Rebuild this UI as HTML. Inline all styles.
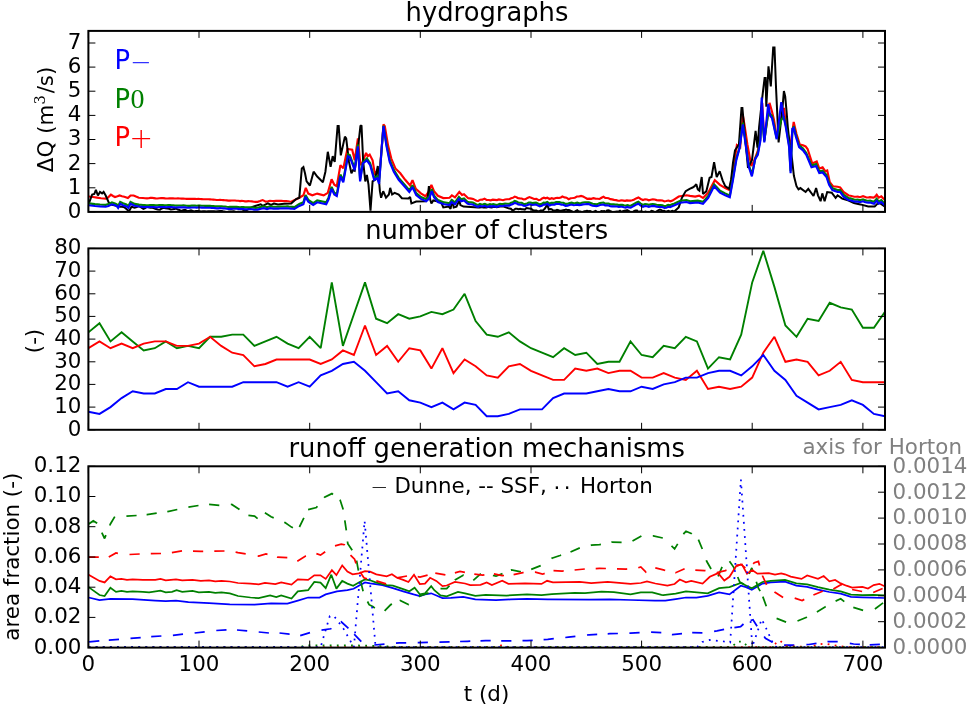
<!DOCTYPE html>
<html lang="en"><head><meta charset="utf-8"><title>hydrographs, number of clusters, runoff generation mechanisms</title>
<style>html,body{margin:0;padding:0;background:#fff}svg{display:block}text{font-family:"DejaVu Sans", "Liberation Sans", sans-serif;font-size:21.4px;fill:#000}.t{font-size:25.8px}.g{fill:#808080}.s{font-family:"Liberation Serif", "DejaVu Serif", serif}.l{font-family:"DejaVu Sans Light","DejaVu Sans",sans-serif;font-weight:200}</style>
</head><body>
<svg width="967" height="706" viewBox="0 0 967 706">
<rect width="967" height="706" fill="#fff"/>
<defs>
<clipPath id="c1"><rect x="88.4" y="30.9" width="796.6" height="181.0"/></clipPath>
<clipPath id="c2"><rect x="88.4" y="248.4" width="796.6" height="181.4"/></clipPath>
<clipPath id="c3"><rect x="88.4" y="466.3" width="796.6" height="181.3"/></clipPath>
</defs>
<g clip-path="url(#c1)">
<polyline points="88.6,196.5 93.0,197.0 97.0,197.6 101.0,198.2 105.7,198.6 108.0,197.5 110.9,194.7 113.0,196.0 115.0,197.0 117.5,196.3 119.6,195.5 122.0,196.3 124.3,196.8 127.9,198.1 129.0,197.0 130.5,195.5 133.6,195.5 136.0,196.6 138.8,197.8 143.0,198.0 145.0,198.2 147.0,198.3 148.7,198.2 150.3,197.9 152.0,197.8 153.8,198.1 155.6,198.4 157.4,198.5 159.3,198.2 161.1,198.1 163.0,198.1 165.3,198.4 167.7,198.5 169.5,198.3 171.2,198.4 173.0,198.4 174.7,198.5 176.3,198.5 178.0,198.4 179.8,198.5 181.5,198.6 183.2,198.6 185.0,198.8 186.7,198.9 188.3,198.9 190.0,198.9 191.7,198.8 193.3,198.8 195.0,198.8 196.7,199.0 198.3,198.9 200.0,199.0 201.7,199.1 203.3,199.2 205.0,199.2 206.7,199.2 208.3,199.3 210.0,199.4 211.7,199.5 213.3,199.6 215.0,199.8 216.7,200.0 218.3,200.0 220.0,199.9 221.7,200.0 223.3,200.1 225.0,200.2 226.7,200.4 228.3,200.6 230.0,200.6 231.7,200.5 233.3,200.5 235.0,200.5 236.7,200.7 238.3,200.8 240.0,201.1 241.7,200.9 243.3,201.0 245.0,201.3 246.7,201.3 248.3,201.2 250.0,201.3 251.9,201.4 253.8,201.7 255.7,201.8 257.6,201.8 260.0,201.1 262.7,200.1 265.8,201.6 267.9,201.3 270.0,200.9 272.0,201.0 274.0,201.1 276.0,200.9 277.9,200.9 279.8,200.8 281.4,200.8 283.1,201.0 284.7,201.1 286.3,201.1 287.9,201.2 289.6,201.5 291.2,201.7 299.3,197.7 303.4,195.3 305.8,187.9 308.3,193.6 312.3,195.3 317.2,193.6 323.7,195.3 327.8,192.8 331.6,179.3 334.3,184.7 336.8,186.3 340.4,165.1 343.3,168.4 347.4,148.9 352.2,149.7 354.7,160.3 357.9,138.3 360.4,165.1 362.0,163.5 366.1,152.9 367.7,156.2 369.7,154.6 372.6,160.3 375.0,174.9 377.5,170.0 379.1,178.2 381.6,148.9 383.5,124.4 384.8,126.1 388.1,145.6 391.3,158.6 395.4,168.4 400.3,173.3 405.2,179.8 410.1,185.5 412.5,180.1 415.8,188.8 420.9,193.4 425.5,196.2 428.6,191.9 431.4,184.9 434.0,191.1 437.9,195.8 443.3,198.1 449.6,197.8 451.9,195.3 455.0,197.3 459.3,191.9 462.0,195.0 464.0,194.2 468.2,198.3 469.9,198.4 471.5,198.6 473.2,198.9 474.9,199.9 476.5,200.8 478.2,201.0 480.3,199.7 482.4,199.6 484.5,198.6 486.6,199.9 488.6,200.0 490.7,200.3 492.8,199.7 494.8,199.9 496.9,200.1 498.9,199.4 501.0,199.8 503.0,200.2 505.1,199.5 507.2,199.3 509.3,199.2 511.1,198.2 512.9,197.8 514.7,196.6 516.5,197.2 518.2,198.2 520.0,198.4 521.7,198.5 523.6,199.4 525.5,199.2 527.5,197.9 529.4,197.1 531.8,198.1 534.1,199.0 536.4,198.9 538.7,200.1 540.4,199.8 542.1,198.4 543.9,197.7 545.6,198.3 547.3,197.7 549.6,199.0 551.7,198.2 553.7,198.8 555.8,198.0 557.4,197.8 559.1,198.0 560.8,197.4 562.4,196.5 564.5,197.4 566.5,197.7 568.6,199.2 570.7,198.2 572.7,198.0 574.8,197.7 576.9,196.5 578.9,196.5 581.0,195.9 583.1,196.6 585.1,197.6 587.2,198.8 589.3,198.7 591.3,198.8 593.4,198.2 595.5,198.6 597.5,198.8 599.6,199.0 601.5,197.8 603.5,196.7 605.2,197.9 606.9,198.0 608.6,198.2 610.3,199.1 612.0,199.4 614.1,199.9 616.1,200.1 618.2,200.7 619.9,200.6 621.7,200.3 623.4,200.6 625.1,200.9 626.9,200.4 628.6,200.6 630.3,200.6 632.1,200.2 633.8,199.7 636.1,198.4 638.4,197.4 640.7,199.0 643.0,200.0 645.0,199.3 646.9,199.5 648.8,200.3 650.8,199.8 652.8,199.3 654.7,199.5 656.6,200.1 658.6,200.4 660.5,200.4 662.5,200.5 664.4,201.4 666.3,201.0 668.4,200.5 670.4,201.3 672.5,200.6 678.7,196.5 686.5,195.3 690.0,195.9 695.2,196.6 699.1,195.6 703.0,197.9 708.2,192.7 714.8,180.3 720.0,184.9 725.2,188.1 729.8,190.1 733.0,170.5 736.9,145.1 740.2,147.1 742.8,115.2 744.5,125.0 747.4,144.5 751.3,166.0 753.9,161.4 757.8,151.0 761.0,128.8 762.2,103.0 764.3,140.0 769.5,102.8 772.1,111.9 774.0,120.0 776.7,137.0 783.9,108.0 786.0,125.0 789.0,140.0 790.5,145.0 793.7,121.9 796.5,134.0 799.8,144.5 803.0,145.2 805.6,146.4 807.6,149.0 812.2,163.4 816.7,161.4 819.3,168.6 822.6,167.3 825.2,171.2 827.2,170.5 829.8,182.3 833.0,186.2 837.6,186.8 840.2,187.5 843.5,192.0 848.7,195.5 850.5,195.7 852.3,196.2 854.2,196.7 856.0,196.7 857.8,196.5 859.5,197.2 861.3,196.7 863.0,196.2 864.7,196.8 866.5,197.5 868.2,197.5 869.9,197.2 871.7,197.4 873.4,197.6 875.0,196.8 876.7,194.8 878.7,197.7 881.3,196.4 883.0,198.1 884.6,199.3" fill="none" stroke="#ff0000" stroke-width="2.15" stroke-linejoin="miter" stroke-miterlimit="2"/>
<polyline points="88.6,203.5 89.1,202.7 92.2,194.5 94.3,194.0 95.9,189.8 97.9,195.5 100.0,191.9 102.1,193.4 103.6,191.9 105.7,195.5 108.8,202.7 111.9,204.8 118.1,206.1 120.2,206.7 122.2,206.7 124.3,207.2 126.7,209.2 129.0,211.3 131.5,206.7 134.6,207.8 136.7,207.0 138.8,206.0 141.1,207.5 143.4,208.8 145.2,208.1 147.0,206.8 148.7,207.2 150.3,207.8 152.0,207.8 153.6,208.0 155.3,208.8 157.7,209.4 160.0,209.7 161.8,208.5 163.6,207.7 165.4,208.2 167.2,208.4 169.0,208.7 170.8,209.4 172.5,209.3 174.3,208.9 176.0,208.5 177.7,209.5 179.5,209.9 181.2,211.0 183.1,210.2 185.0,209.7 188.0,211.3 191.0,210.2 194.0,211.4 196.0,211.1 198.0,211.0 199.7,211.2 201.3,211.5 203.0,211.2 204.8,211.3 206.5,211.5 208.2,211.2 210.0,211.3 212.0,211.3 214.0,211.3 216.0,211.6 218.0,211.2 220.0,211.1 222.0,211.1 224.0,211.6 226.0,211.9 228.0,211.7 230.0,211.4 232.0,211.5 233.6,211.2 235.2,211.8 236.8,211.9 238.4,211.7 240.0,211.9 242.0,211.5 244.0,211.0 246.0,210.6 249.0,208.8 252.4,206.9 256.0,205.8 260.7,204.3 262.7,205.8 267.9,203.3 271.0,204.8 274.0,203.5 278.0,204.4 284.0,203.8 291.2,203.4 296.1,199.0 299.3,197.7 301.8,168.4 303.4,167.1 305.0,173.3 306.6,181.4 309.9,185.5 313.6,171.7 317.2,176.5 322.9,182.2 325.4,171.7 327.8,151.8 330.6,166.8 332.7,156.2 334.7,161.9 337.6,126.1 338.7,126.1 340.8,155.4 344.9,136.6 346.2,138.3 349.0,161.9 351.4,173.3 353.1,170.0 354.7,170.8 357.9,148.9 360.4,126.1 361.5,125.2 363.2,161.9 365.3,181.4 366.9,174.9 368.5,184.7 370.5,210.7 372.6,181.4 375.0,179.8 377.8,166.0 379.9,191.2 381.1,197.7 383.2,191.2 386.0,197.7 388.9,194.5 390.2,187.9 392.1,194.5 394.6,192.8 398.7,194.5 401.9,198.2 408.4,198.5 410.1,196.9 411.4,203.4 416.2,201.5 425.5,201.2 427.8,196.5 428.9,186.0 430.2,199.6 431.4,203.5 433.3,200.4 441.0,202.0 443.3,207.4 448.8,206.6 450.6,208.9 452.2,199.6 453.7,207.4 456.5,206.6 459.3,200.4 460.4,205.1 463.5,206.6 478.2,207.4 479.9,207.6 481.6,207.0 483.3,207.4 484.9,207.4 486.6,207.4 488.3,206.9 490.0,207.3 491.6,207.4 493.2,207.0 494.9,206.8 496.5,207.2 498.1,207.0 499.8,206.6 501.4,206.6 503.0,206.2 509.3,208.6 510.9,208.8 512.4,210.4 514.0,209.9 515.5,208.8 517.0,208.7 518.6,209.2 520.1,208.8 521.7,209.3 523.2,209.2 524.8,209.6 526.3,208.0 527.9,208.2 529.4,208.6 531.0,208.7 532.5,209.9 533.8,210.4 535.2,210.5 536.5,210.5 537.8,211.3 539.1,211.3 540.5,210.6 541.8,210.5 543.3,210.1 544.9,208.5 547.3,204.7 548.8,209.4 550.1,209.0 551.5,209.3 552.9,210.4 554.2,210.5 555.7,210.5 557.1,209.9 558.5,210.1 560.0,210.9 561.5,210.6 563.0,210.2 564.5,210.1 566.0,209.5 567.5,210.1 569.0,210.1 570.5,210.7 572.0,211.4 573.3,212.2 574.7,211.9 576.0,210.9 577.3,210.2 578.7,211.4 580.0,211.6 581.4,211.9 582.9,212.0 584.3,211.2 585.7,211.1 587.1,210.8 588.6,211.2 590.0,211.0 591.4,211.7 592.9,211.9 594.3,211.5 595.7,211.0 597.1,212.1 598.6,212.6 600.0,212.1 601.4,211.0 602.9,211.3 604.3,211.1 605.7,212.0 607.1,210.4 608.6,210.2 610.0,210.9 611.4,211.5 612.9,212.7 614.3,212.0 615.7,211.8 617.1,211.6 618.6,211.7 620.0,210.8 621.4,212.1 622.9,211.2 624.3,210.7 625.7,210.6 627.1,210.1 628.6,210.8 630.0,211.9 631.4,212.7 632.9,212.0 634.3,211.0 635.7,210.5 637.1,210.5 638.6,212.1 640.0,211.5 641.4,211.3 642.9,211.9 644.3,211.9 645.7,211.6 647.1,212.3 648.6,212.8 650.0,212.2 651.4,210.8 652.9,211.3 654.3,212.0 655.7,212.0 657.1,211.1 658.6,210.2 660.0,209.6 661.4,210.1 662.8,211.0 664.2,210.7 665.6,211.6 667.0,211.5 668.4,210.9 669.8,211.4 671.2,211.3 672.6,210.8 674.0,211.8 678.7,207.4 681.8,198.1 685.7,191.1 689.6,188.8 692.6,187.5 694.6,186.2 696.3,184.2 697.8,189.4 699.4,190.7 701.7,177.0 703.0,194.0 706.3,191.4 709.6,177.7 711.5,177.0 714.1,162.1 716.7,177.0 719.7,171.2 722.6,180.3 725.2,186.2 729.1,188.8 731.1,179.7 733.0,162.7 735.0,150.3 738.9,144.5 741.5,108.0 742.4,108.0 744.1,127.0 748.0,167.9 752.0,160.0 755.6,130.8 757.5,147.7 759.1,127.0 762.4,96.3 764.6,78.0 765.6,78.0 766.3,106.7 768.5,66.3 770.8,86.5 773.2,47.4 774.5,47.4 776.0,87.1 778.6,142.5 780.0,130.0 782.6,106.7 783.9,91.0 785.2,96.3 786.7,113.2 787.8,127.0 790.0,147.0 792.0,158.8 793.9,175.8 796.5,186.2 798.5,189.4 800.4,188.1 805.6,192.0 808.3,188.8 813.5,196.0 816.1,188.1 818.0,195.3 820.6,201.2 822.3,193.4 824.6,201.2 827.2,192.0 831.7,192.7 835.6,197.9 837.6,195.3 842.2,198.6 848.7,200.5 853.9,203.1 860.4,204.4 868.2,206.4 874.7,206.4 877.4,203.8 880.0,203.1 884.6,206.4" fill="none" stroke="#000" stroke-width="2.00" stroke-linejoin="miter" stroke-miterlimit="2"/>
<polyline points="88.6,203.4 95.0,204.1 100.0,204.5 105.7,204.8 108.5,204.1 111.9,202.4 115.0,203.4 116.8,204.3 118.1,206.0 120.2,201.9 123.0,203.3 126.4,204.5 128.4,206.0 130.5,201.9 134.6,203.9 139.0,204.6 142.9,205.0 144.7,205.1 146.4,205.2 148.2,205.2 150.0,205.1 151.8,205.1 153.7,205.1 155.6,205.4 157.4,205.3 159.2,205.1 161.0,205.1 162.8,205.1 164.6,205.2 166.4,205.3 168.2,205.1 170.0,205.1 171.7,205.2 173.3,205.3 175.0,205.5 176.7,205.6 178.3,205.5 180.0,205.5 181.7,205.5 183.3,205.4 185.0,205.5 186.7,205.7 188.3,205.8 190.0,205.8 191.7,205.6 193.3,205.6 195.0,205.6 196.7,205.7 198.3,205.6 200.0,205.6 201.7,205.7 203.3,205.7 205.0,205.8 206.7,205.8 208.3,205.8 210.0,205.9 211.7,206.0 213.3,206.1 215.0,206.2 216.7,206.4 218.3,206.4 220.0,206.3 221.7,206.4 223.3,206.5 225.0,206.5 226.7,206.8 228.4,207.0 230.0,206.9 231.7,206.9 233.4,206.8 235.0,206.8 236.7,206.9 238.3,207.0 240.0,207.2 241.7,207.0 243.3,207.1 245.0,207.4 246.8,207.3 248.6,207.3 250.4,207.3 252.2,207.4 254.0,207.7 255.8,207.8 257.6,207.7 259.3,207.2 261.0,206.9 263.8,206.3 267.0,207.2 270.0,206.3 271.7,206.5 273.3,206.7 275.0,206.7 276.7,206.7 278.3,206.7 280.0,206.6 281.8,206.5 283.6,206.5 285.4,206.5 287.2,206.4 289.0,206.6 290.8,206.7 292.6,206.9 294.4,207.1 299.3,204.0 303.4,202.3 305.5,195.0 308.3,199.9 313.2,203.1 317.2,200.4 326.2,202.3 328.6,197.4 331.6,186.9 334.3,192.6 336.8,194.2 340.4,174.6 343.3,180.3 347.9,154.3 349.8,155.1 352.2,161.6 354.7,168.1 357.9,144.5 360.1,179.5 362.8,162.6 366.9,158.4 370.2,163.2 374.2,177.9 377.2,176.3 379.1,182.0 381.6,150.1 383.5,125.6 386.4,143.7 389.7,160.0 393.8,169.8 398.7,177.9 404.4,184.4 409.3,190.1 412.5,185.3 416.2,193.1 420.9,197.0 426.3,199.3 429.4,196.2 431.7,189.2 434.0,195.4 437.9,200.1 444.1,202.4 449.6,203.2 451.6,200.1 455.0,202.4 458.9,197.0 461.2,199.3 464.0,198.5 467.4,201.7 469.2,202.2 471.0,202.3 472.8,202.6 474.6,203.5 476.4,204.5 478.2,204.9 479.9,204.0 481.6,204.5 483.3,204.4 484.9,203.9 486.6,204.8 488.3,204.7 490.0,204.2 491.6,204.5 493.2,204.2 494.9,204.5 496.5,205.0 498.1,204.5 499.8,203.9 501.4,204.1 503.0,204.1 505.1,203.6 507.2,203.7 509.3,203.8 511.1,202.7 512.9,202.2 514.7,201.0 516.5,201.5 518.2,202.5 520.0,202.7 521.7,202.8 523.5,203.9 525.2,204.0 527.0,203.4 528.8,202.6 530.6,202.5 532.3,203.1 534.1,202.9 536.0,202.7 538.0,203.6 539.9,204.4 541.8,203.9 543.6,202.7 545.5,202.8 547.3,201.9 549.6,203.6 551.2,202.8 552.8,202.8 554.5,202.7 556.1,202.0 557.7,202.1 559.3,202.1 561.4,202.7 563.4,202.8 565.5,203.9 567.6,203.7 569.6,203.1 571.7,202.6 573.6,203.3 575.4,203.1 577.3,202.7 579.1,203.2 581.0,203.0 583.0,202.5 584.9,202.3 586.8,202.2 588.8,202.2 590.7,203.0 592.6,203.8 594.6,204.0 596.5,204.2 598.2,203.8 600.0,203.1 601.8,202.8 603.5,202.6 605.2,203.6 606.9,203.5 608.6,203.6 610.3,204.3 612.0,204.4 613.7,204.4 615.4,204.6 617.1,204.6 618.8,205.0 620.5,204.8 622.2,204.8 623.9,205.3 625.6,205.7 627.3,205.1 629.0,205.6 630.7,205.7 632.6,204.7 634.5,203.6 636.5,202.5 638.4,201.8 640.7,203.6 643.0,204.9 645.0,204.1 646.9,204.3 648.8,204.9 650.8,204.3 652.8,204.0 654.7,204.2 656.6,204.7 658.6,205.0 660.5,205.1 662.5,205.2 664.4,206.1 666.3,205.8 668.2,204.9 670.1,205.2 672.1,204.3 674.0,203.7 680.3,200.8 686.5,200.1 690.0,201.2 697.8,200.6 703.0,201.9 708.2,196.0 714.1,184.3 720.0,190.8 725.2,193.4 729.8,195.4 733.0,177.8 736.3,158.2 739.5,147.9 742.8,122.6 746.0,145.2 748.7,164.7 751.9,174.5 755.2,159.1 757.8,153.0 760.4,138.7 761.7,114.9 764.3,141.2 768.2,113.3 770.2,113.9 772.0,116.1 776.7,138.2 781.3,119.7 783.9,116.5 785.8,125.1 789.1,145.2 790.6,171.2 792.3,133.2 793.7,126.1 795.9,134.7 799.1,145.2 803.0,148.4 806.3,153.0 811.5,165.4 816.1,164.1 819.3,171.2 822.6,170.6 826.5,175.1 829.1,183.0 832.4,188.2 837.6,190.1 840.2,190.1 843.5,194.7 848.7,198.2 850.5,198.4 852.3,199.0 854.2,199.6 856.0,199.7 857.8,199.6 859.5,200.3 861.3,199.8 863.0,199.4 864.7,200.0 866.5,200.6 868.2,200.7 870.2,200.6 872.1,201.2 874.1,201.8 876.7,198.8 878.7,201.6 881.3,200.1 883.0,201.8 884.6,203.1" fill="none" stroke="#008000" stroke-width="2.15" stroke-linejoin="miter" stroke-miterlimit="2"/>
<polyline points="88.6,205.3 95.0,206.0 100.0,206.4 105.7,206.7 108.5,206.0 111.9,204.3 115.0,205.3 116.8,206.2 118.1,207.9 120.2,203.8 123.0,205.2 126.4,206.4 128.4,207.9 130.5,203.8 134.6,205.8 139.0,206.5 142.9,206.9 144.7,207.0 146.4,207.1 148.2,207.1 150.0,207.0 151.8,207.0 153.7,207.0 155.6,207.3 157.4,207.2 159.2,207.0 161.0,207.0 162.8,207.0 164.6,207.1 166.4,207.2 168.2,207.0 170.0,207.0 171.7,207.1 173.3,207.2 175.0,207.4 176.7,207.5 178.3,207.4 180.0,207.4 181.7,207.4 183.3,207.3 185.0,207.4 186.7,207.6 188.3,207.7 190.0,207.7 191.7,207.5 193.3,207.5 195.0,207.5 196.7,207.6 198.3,207.5 200.0,207.5 201.7,207.6 203.3,207.6 205.0,207.7 206.7,207.7 208.3,207.7 210.0,207.8 211.7,207.9 213.3,208.0 215.0,208.1 216.7,208.3 218.3,208.3 220.0,208.2 221.7,208.3 223.3,208.4 225.0,208.4 226.7,208.7 228.4,208.9 230.0,208.8 231.7,208.8 233.4,208.7 235.0,208.7 236.7,208.8 238.3,208.9 240.0,209.1 241.7,208.9 243.3,209.0 245.0,209.3 246.8,209.2 248.6,209.2 250.4,209.2 252.2,209.3 254.0,209.6 255.8,209.7 257.6,209.6 259.3,209.1 261.0,208.8 263.8,208.2 267.0,209.1 270.0,208.2 271.7,208.4 273.3,208.6 275.0,208.6 276.7,208.6 278.3,208.6 280.0,208.5 281.8,208.4 283.6,208.4 285.4,208.4 287.2,208.3 289.0,208.5 290.8,208.6 292.6,208.8 294.4,209.0 299.3,205.9 303.4,204.2 305.5,196.9 308.3,201.8 313.2,205.0 317.2,202.3 326.2,204.2 328.6,199.3 331.6,188.8 334.3,194.5 336.8,196.1 340.4,176.5 343.3,182.2 347.9,156.2 349.8,157.0 352.2,163.5 354.7,170.0 357.9,146.4 360.1,181.4 362.8,163.5 366.9,160.3 370.2,165.1 374.2,179.8 377.2,178.2 379.1,183.9 381.6,148.9 383.5,126.1 386.4,145.6 389.7,161.9 393.8,171.7 398.7,179.8 404.4,186.3 409.3,192.0 412.5,187.2 416.2,195.0 420.9,198.9 426.3,201.2 429.4,198.1 431.7,191.1 434.0,197.3 437.9,202.0 444.1,204.3 449.6,205.1 451.6,202.0 455.0,204.3 458.9,198.9 461.2,201.2 464.0,200.4 467.4,203.6 469.2,204.1 471.0,204.2 472.8,204.5 474.6,205.4 476.4,206.4 478.2,206.8 479.9,205.9 481.6,206.4 483.3,206.3 484.9,205.8 486.6,206.7 488.3,206.6 490.0,206.1 491.6,206.4 493.2,206.1 494.9,206.4 496.5,206.9 498.1,206.4 499.8,205.8 501.4,206.0 503.0,206.0 505.1,205.5 507.2,205.6 509.3,205.7 511.1,204.6 512.9,204.1 514.7,202.9 516.5,203.4 518.2,204.4 520.0,204.6 521.7,204.7 523.5,205.8 525.2,205.9 527.0,205.3 528.8,204.5 530.6,204.4 532.3,205.0 534.1,204.8 536.0,204.6 538.0,205.5 539.9,206.3 541.8,205.8 543.6,204.6 545.5,204.7 547.3,203.8 549.6,205.5 551.2,204.7 552.8,204.7 554.5,204.6 556.1,203.9 557.7,204.0 559.3,204.0 561.4,204.6 563.4,204.7 565.5,205.8 567.6,205.6 569.6,205.0 571.7,204.5 573.6,205.2 575.4,205.0 577.3,204.6 579.1,205.1 581.0,204.9 583.0,204.4 584.9,204.2 586.8,204.1 588.8,204.1 590.7,204.9 592.6,205.7 594.6,205.9 596.5,206.1 598.2,205.7 600.0,205.0 601.8,204.7 603.5,204.5 605.2,205.5 606.9,205.4 608.6,205.5 610.3,206.2 612.0,206.3 613.7,206.3 615.4,206.5 617.1,206.5 618.8,206.9 620.5,206.7 622.2,206.7 623.9,207.2 625.6,207.6 627.3,207.0 629.0,207.5 630.7,207.6 632.6,206.6 634.5,205.5 636.5,204.4 638.4,203.7 640.7,205.5 643.0,206.8 645.0,206.0 646.9,206.2 648.8,206.8 650.8,206.2 652.8,205.9 654.7,206.1 656.6,206.6 658.6,206.9 660.5,207.0 662.5,207.1 664.4,208.0 666.3,207.7 668.2,206.8 670.1,207.1 672.1,206.2 674.0,205.6 680.3,202.7 686.5,202.0 690.0,203.1 697.8,202.5 703.0,203.8 708.2,197.9 714.1,186.2 720.0,192.7 725.2,195.3 729.8,197.3 733.0,179.7 736.3,160.1 739.5,148.4 742.8,124.5 746.0,147.1 748.7,166.6 751.9,176.4 755.2,158.8 757.8,154.9 760.4,140.6 761.7,97.6 764.3,142.5 768.2,104.1 770.2,115.8 772.0,118.0 776.7,139.2 781.3,102.1 783.9,118.4 785.8,127.0 789.1,147.1 790.6,173.1 792.3,128.8 793.7,128.0 795.9,136.6 799.1,147.1 803.0,150.3 806.3,154.9 811.5,167.3 816.1,166.0 819.3,173.1 822.6,172.5 826.5,177.0 829.1,184.9 832.4,190.1 837.6,192.0 840.2,192.0 843.5,196.6 848.7,200.1 850.5,200.3 852.3,200.9 854.2,201.5 856.0,201.6 857.8,201.5 859.5,202.2 861.3,201.7 863.0,201.3 864.7,201.9 866.5,202.5 868.2,202.6 870.2,202.5 872.1,203.1 874.1,203.7 876.7,200.7 878.7,203.5 881.3,202.0 883.0,203.7 884.6,205.0" fill="none" stroke="#0000ff" stroke-width="2.15" stroke-linejoin="miter" stroke-miterlimit="2"/>
</g>
<g clip-path="url(#c2)">
<polyline points="88.4,332.3 99.5,323.2 110.5,341.4 121.6,332.3 132.7,341.4 143.7,350.4 154.8,348.2 165.8,341.4 176.9,348.2 188.0,345.9 199.0,348.2 210.1,336.8 221.2,336.8 232.2,334.6 243.3,334.6 254.4,345.9 265.4,341.4 276.5,336.8 287.6,343.6 298.6,348.2 309.7,336.8 320.7,348.2 331.8,282.4 342.9,345.9 353.9,314.2 365.0,282.4 376.1,318.7 387.1,323.2 398.2,314.2 409.3,318.7 420.3,316.4 431.4,311.9 442.4,314.2 453.5,309.6 464.6,293.8 475.6,321.0 486.7,334.6 497.8,336.8 508.8,332.3 519.9,341.4 531.0,348.2 542.0,352.7 553.1,357.2 564.1,348.2 575.2,355.0 586.3,352.7 597.3,364.0 608.4,361.8 619.5,361.8 630.5,341.4 641.6,355.0 652.7,357.2 663.7,345.9 674.8,348.2 685.8,336.8 696.9,341.4 708.0,368.6 719.0,357.2 730.1,359.5 741.2,334.6 752.2,282.4 763.3,250.7 774.4,286.9 785.4,325.5 796.5,336.8 807.6,318.7 818.6,321.0 829.7,302.8 840.7,307.4 851.8,309.6 862.9,327.8 873.9,327.8 885.0,311.9" fill="none" stroke="#008000" stroke-width="1.90" stroke-linejoin="miter" stroke-miterlimit="2"/>
<polyline points="88.4,348.2 99.5,341.4 110.5,348.2 121.6,343.6 132.7,348.2 143.7,343.6 154.8,341.4 165.8,341.4 176.9,345.9 188.0,345.9 199.0,343.6 210.1,336.8 221.2,345.9 232.2,352.7 243.3,355.0 254.4,366.3 265.4,364.0 276.5,359.5 287.6,359.5 298.6,359.5 309.7,359.5 320.7,364.0 331.8,359.5 342.9,350.4 353.9,355.0 365.0,325.5 376.1,355.0 387.1,345.9 398.2,361.8 409.3,348.2 420.3,350.4 431.4,368.6 442.4,348.2 453.5,373.1 464.6,359.5 475.6,366.3 486.7,375.4 497.8,377.6 508.8,366.3 519.9,364.0 531.0,370.8 542.0,375.4 553.1,379.9 564.1,379.9 575.2,368.6 586.3,370.8 597.3,368.6 608.4,373.1 619.5,370.8 630.5,370.8 641.6,377.6 652.7,377.6 663.7,373.1 674.8,377.6 685.8,379.9 696.9,370.8 708.0,389.0 719.0,386.7 730.1,389.0 741.2,386.7 752.2,377.6 763.3,352.7 774.4,336.8 785.4,361.8 796.5,359.5 807.6,361.8 818.6,375.4 829.7,370.8 840.7,361.8 851.8,379.9 862.9,382.2 873.9,382.2 885.0,382.2" fill="none" stroke="#ff0000" stroke-width="1.90" stroke-linejoin="miter" stroke-miterlimit="2"/>
<polyline points="88.4,411.7 99.5,413.9 110.5,407.1 121.6,398.1 132.7,391.3 143.7,393.5 154.8,393.5 165.8,389.0 176.9,389.0 188.0,382.2 199.0,386.7 210.1,386.7 221.2,386.7 232.2,386.7 243.3,382.2 254.4,382.2 265.4,382.2 276.5,382.2 287.6,386.7 298.6,382.2 309.7,386.7 320.7,375.4 331.8,370.8 342.9,364.0 353.9,361.8 365.0,370.8 376.1,382.2 387.1,393.5 398.2,391.3 409.3,400.3 420.3,402.6 431.4,407.1 442.4,402.6 453.5,409.4 464.6,402.6 475.6,404.9 486.7,416.2 497.8,416.2 508.8,413.9 519.9,409.4 531.0,409.4 542.0,409.4 553.1,398.1 564.1,393.5 575.2,393.5 586.3,393.5 597.3,391.3 608.4,389.0 619.5,391.3 630.5,391.3 641.6,386.7 652.7,389.0 663.7,384.4 674.8,382.2 685.8,377.6 696.9,377.6 708.0,373.1 719.0,370.8 730.1,370.8 741.2,375.4 752.2,366.3 763.3,355.0 774.4,370.8 785.4,379.9 796.5,395.8 807.6,402.6 818.6,409.4 829.7,407.1 840.7,404.9 851.8,400.3 862.9,404.9 873.9,413.9 885.0,416.2" fill="none" stroke="#0000ff" stroke-width="1.90" stroke-linejoin="miter" stroke-miterlimit="2"/>
</g>
<g clip-path="url(#c3)">
<polyline points="88.6,597.5 99.5,600.2 110.4,598.9 132.6,599.1 155.3,600.6 165.7,601.2 176.0,600.6 188.4,602.2 209.1,603.1 229.8,604.3 254.6,604.7 271.1,603.5 287.4,603.7 297.8,600.6 308.1,597.5 319.5,597.5 325.7,594.4 337.0,591.3 347.4,590.2 353.6,588.8 358.8,585.7 365.0,582.4 370.1,583.4 382.5,585.1 392.9,588.2 403.2,591.3 413.6,594.4 419.8,596.0 425.0,594.4 431.2,593.3 442.5,598.1 450.8,597.9 463.2,596.9 475.3,599.4 496.0,600.0 510.5,599.4 527.0,599.0 547.7,599.4 589.1,599.6 609.8,599.4 630.5,600.0 655.0,600.6 665.3,600.6 675.7,599.1 686.0,597.5 696.4,597.5 707.7,595.8 719.1,592.3 729.5,594.4 740.8,585.7 746.0,587.1 751.8,589.8 762.5,583.6 770.8,582.4 785.0,581.7 796.4,585.7 807.2,586.9 818.0,589.7 829.4,592.0 840.7,593.7 851.0,596.9 862.4,597.3 873.7,597.7 884.6,598.0" fill="none" stroke="#0000ff" stroke-width="1.75" stroke-linejoin="miter" stroke-miterlimit="2"/>
<path d="M89.1 641.9L99.3 640.9M108.8 640.0L109.0 640.0L119.0 639.3M130.5 638.4L140.7 637.6M151.2 636.7L161.4 636.0M172.9 635.3L183.0 634.2M194.6 633.0L204.7 631.8M216.3 630.5L226.5 629.8M237.0 630.0L247.2 630.9M258.7 632.0L268.9 633.0M279.5 633.0L289.5 634.2L289.6 634.2M300.2 635.6L310.0 632.7M321.5 630.1L330.8 628.8L331.3 628.2M340.8 621.9L341.2 621.8L347.4 627.4L348.4 628.4M354.2 634.2L354.6 634.6L361.3 641.6M374.3 645.0L384.5 644.1M396.0 643.2L399.1 642.9L406.2 642.8M417.7 642.5L419.8 642.5L427.9 642.4M439.4 642.2L440.0 642.2L449.6 641.9M460.1 641.5L467.3 641.3L470.3 641.2M480.5 640.9L485.7 640.7L490.7 640.7M501.2 640.9L506.0 640.9L511.4 640.8M522.5 640.7L527.0 640.7L532.7 640.3M543.6 639.6L547.7 639.3L553.8 638.7M565.3 637.5L568.4 637.2L575.4 636.4M587.0 635.0L589.1 634.8L597.2 634.4M607.7 633.8L609.8 633.7L617.9 633.5M629.4 633.1L630.5 633.1L639.6 632.7M651.1 632.1L661.3 632.6M671.9 634.5L672.4 634.6L682.0 633.6M692.2 632.6L702.4 632.8M714.1 631.3L717.0 630.8L724.1 629.4M734.4 627.6L740.6 626.6L743.5 624.0M750.6 620.5L753.0 619.7L757.1 626.2M764.2 636.6L765.4 638.3L772.5 642.3M784.1 645.0L794.0 645.0L794.3 645.0M806.4 644.6L808.9 644.5L816.5 643.3M827.5 641.7L828.7 641.5L837.7 641.5M849.8 643.4L853.6 644.0L859.9 644.4M869.7 644.9L879.9 644.3" fill="none" stroke="#0000ff" stroke-width="1.75" stroke-linejoin="miter" stroke-miterlimit="2"/>
<polyline points="88.6,587.1 99.5,595.0 104.6,596.0 110.4,587.8 116.0,591.9 121.4,590.9 127.0,591.9 132.6,591.3 142.9,591.9 149.1,592.3 160.5,590.6 165.7,592.3 172.0,591.9 176.6,590.2 182.2,591.9 192.5,590.9 198.8,592.3 209.0,591.9 215.3,592.9 221.5,592.3 229.8,593.3 238.0,596.0 250.5,597.5 258.7,598.1 270.1,595.4 276.3,597.1 281.2,595.4 291.5,598.5 297.8,591.3 308.1,590.2 314.3,582.0 320.5,582.6 325.7,588.2 331.3,574.7 336.4,588.6 342.2,580.9 347.4,583.6 353.2,585.7 358.8,582.6 365.0,579.5 370.1,580.3 376.3,582.6 386.7,585.1 392.9,585.7 403.2,589.2 409.4,591.3 414.6,587.8 419.8,594.4 425.0,593.3 431.2,586.1 434.3,590.2 440.5,595.4 446.7,596.4 458.0,591.9 465.0,593.4 475.3,595.9 485.7,594.8 506.4,595.5 527.0,594.4 541.5,595.2 551.9,594.2 574.6,592.8 585.0,593.2 601.5,591.7 613.9,592.1 630.5,594.4 640.8,592.4 652.2,592.4 661.5,594.8 663.3,595.0 675.7,593.7 686.0,591.3 707.7,593.3 719.1,588.2 729.5,587.1 740.8,583.0 746.0,585.5 751.8,588.2 762.5,582.0 770.8,580.9 785.0,579.8 796.4,583.4 807.2,584.4 818.0,587.2 829.4,589.7 840.7,591.4 851.0,594.6 862.4,595.0 873.7,594.8 884.6,595.4" fill="none" stroke="#008000" stroke-width="1.75" stroke-linejoin="miter" stroke-miterlimit="2"/>
<path d="M88.6 524.0L93.3 520.9L97.2 523.3M101.8 532.6L104.6 538.5L105.9 535.1M109.8 525.5L110.4 524.0L114.8 516.6M126.4 516.2L136.6 515.5M146.6 514.7L147.0 514.7L156.7 513.2M167.3 511.7L167.7 511.6L177.3 509.5M188.4 507.1L198.5 505.5M209.1 504.4L219.3 505.4M230.8 504.5L231.8 504.4L239.1 509.2L239.5 509.5M248.4 515.4L254.6 516.2L257.6 518.7M264.9 512.7L271.1 516.8L273.7 517.9M284.3 522.3L285.0 522.6L291.5 527.1L292.9 527.8M299.4 527.0L302.9 519.9L303.9 517.8M308.1 509.6L316.4 507.5L317.4 506.2M324.2 497.7L324.6 497.2L331.9 493.6L333.0 494.5M339.7 499.9L340.2 500.3L343.2 509.4M344.8 520.3L346.3 530.4M347.5 541.5L347.8 543.7L352.2 550.3M356.4 560.6L356.7 561.3L358.4 570.6M360.7 581.4L363.1 591.3M367.5 601.5L369.1 604.7L373.2 606.8L374.8 608.1M384.6 610.9L390.8 604.6L392.0 604.1M399.7 600.7L400.1 600.5L408.4 604.6L408.8 604.3M419.1 596.7L420.0 596.0L428.5 592.9M440.5 588.6L446.7 588.6L449.5 585.7M454.9 580.1L455.0 580.0L463.2 575.3L463.7 575.6M473.3 580.4L480.9 573.6M492.9 575.5L496.0 576.2L502.5 573.6M510.9 570.2L511.5 570.0L519.8 571.7L520.9 571.5M531.2 569.4L540.7 565.6M551.5 558.5L551.9 558.2L560.0 555.5L561.1 555.1M570.5 552.0L579.8 547.9L579.8 547.9M590.8 545.3L591.2 545.2L599.5 544.6L600.9 544.3M611.4 542.2L611.8 542.1L621.6 542.4M632.5 541.1L641.4 536.1M652.8 535.9L653.2 535.9L662.8 538.0M671.5 545.9L674.6 548.9L677.7 543.9M683.5 534.2L684.0 533.4L686.0 531.3L691.2 533.4L691.8 533.9M698.4 539.6L702.3 549.0M706.3 560.2L706.7 561.3L710.8 568.5L711.2 569.1M718.1 576.3L722.1 566.9M729.5 561.2L733.6 567.1L734.8 569.9M737.7 577.0L739.8 582.0L744.0 584.2M749.1 573.8L751.8 567.9L752.9 571.4M756.3 581.7L758.4 588.2L760.2 591.1M762.8 596.6L766.3 606.2M776.6 618.4L786.1 622.1M797.5 621.0L806.6 617.3L806.9 617.1M816.9 611.9L825.4 606.8L825.7 606.7M835.6 601.1L840.7 598.8L844.3 601.6M853.3 607.3L863.1 610.3M874.9 609.0L883.1 602.9" fill="none" stroke="#008000" stroke-width="1.75" stroke-linejoin="miter" stroke-miterlimit="2"/>
<polyline points="88.6,574.7 99.5,580.9 104.6,582.4 110.4,576.4 116.0,579.3 121.4,578.9 127.0,579.9 132.6,579.3 142.9,579.9 155.3,579.9 160.5,578.9 165.7,580.3 176.0,579.3 182.2,580.3 192.5,579.9 200.8,580.9 209.0,580.5 215.3,581.3 221.5,580.9 229.8,581.5 238.0,583.0 250.5,583.6 258.7,584.4 264.9,583.0 275.3,584.0 281.2,582.4 291.5,584.6 297.8,579.3 308.1,579.9 314.3,575.3 320.5,575.3 325.7,578.9 331.9,570.2 336.4,575.1 342.2,565.4 347.4,571.6 352.6,574.3 358.8,573.3 365.0,571.2 370.1,571.6 376.3,574.3 386.7,576.4 391.9,574.3 397.0,577.8 403.2,579.9 408.4,582.0 414.0,574.7 419.8,584.0 425.0,583.6 430.1,577.8 436.3,580.9 442.5,586.1 446.7,585.5 454.9,582.0 465.0,583.5 470.2,585.1 480.5,584.9 486.7,582.4 491.9,585.1 502.2,580.8 508.4,583.9 525.0,583.5 541.5,583.9 547.1,580.8 552.9,582.4 579.8,581.8 591.2,583.0 607.7,582.0 630.5,583.9 640.8,583.0 647.0,581.4 655.3,583.5 667.4,585.5 674.6,584.0 679.8,579.5 686.0,582.4 691.2,580.9 702.6,583.6 709.8,576.8 718.1,573.1 724.3,580.5 729.5,576.8 736.7,565.4 741.9,564.4 747.0,573.7 752.2,570.0 757.4,573.7 768.8,573.1 775.0,574.7 781.2,573.3 785.0,574.3 790.7,576.6 801.5,578.9 807.2,575.5 818.0,578.9 823.7,576.0 829.4,581.4 835.1,580.0 840.7,583.4 846.4,585.7 852.1,587.7 862.4,586.9 868.0,588.6 873.7,585.1 879.4,583.8 884.6,586.3" fill="none" stroke="#ff0000" stroke-width="1.75" stroke-linejoin="miter" stroke-miterlimit="2"/>
<path d="M88.6 557.1L97.4 557.1L98.8 557.1M108.8 557.1L116.0 553.0L117.9 553.3M129.5 554.5L139.7 554.0M150.8 553.6L161.0 553.5M171.9 552.7L182.0 550.9M193.0 551.1L200.8 551.3L203.2 551.3M214.3 551.1L224.5 551.0M235.6 552.1L238.0 552.6L245.7 553.8M257.7 555.9L258.7 556.1L266.0 554.0L267.5 554.4M277.1 557.0L277.3 557.1L287.3 557.6M297.3 561.3L305.6 556.1L306.0 556.0M316.4 553.6L320.5 555.1L325.2 551.7M335.0 545.8L341.2 544.1L344.3 544.7L344.6 545.2M350.5 555.1L354.6 559.2L356.0 563.4M360.1 572.0L363.9 577.8L367.0 578.8M376.3 580.9L386.1 583.8M397.0 577.8L407.0 576.0M417.7 576.7L420.0 577.0L427.6 575.1M435.3 573.2L445.4 574.9M454.9 572.8L460.0 571.5L464.9 572.4M474.3 574.2L482.6 575.2L484.4 574.9M493.9 573.9L502.2 575.6L504.0 575.5M513.6 574.6L522.9 572.7L523.6 572.7M534.9 572.1L535.3 572.1L542.6 574.2L544.7 573.4M553.5 570.7L562.2 571.0L563.7 570.9M574.6 570.0L584.8 569.0M595.7 568.6L599.4 568.4L605.9 568.5M617.0 568.8L626.3 569.0L627.2 568.9M638.3 567.8L640.8 566.9L646.0 572.1L646.2 572.0M655.3 567.9L664.3 570.2L665.2 570.4M675.3 572.6L675.7 572.7L684.6 568.7M695.3 570.2L704.6 570.6L705.5 570.7M716.6 572.6L717.0 572.7L725.3 570.6L726.5 570.2M736.7 566.1L740.8 564.4L745.4 567.9M753.2 563.9L754.3 562.7L758.4 561.3L759.5 565.4M762.4 575.5L762.5 575.8L766.6 584.9M774.5 591.9L775.0 592.3L783.1 597.4M794.7 598.2L802.1 600.5L804.3 599.4M813.4 595.0L822.5 591.2L822.8 591.1M833.4 589.1L841.3 584.4L842.2 584.9M852.1 589.5L862.1 591.5M873.2 592.5L882.6 588.5" fill="none" stroke="#ff0000" stroke-width="1.75" stroke-linejoin="miter" stroke-miterlimit="2"/>
<polyline points="88.6,647.1 497.0,647.1 502.0,645.0 508.0,647.1 773.0,647.1 777.5,641.0 780.5,641.0 786.0,646.0 811.0,647.1 817.0,644.6 825.0,643.6 832.0,644.8 839.0,646.0 846.0,647.1 884.6,647.1" fill="none" stroke="#ff0000" stroke-width="1.75" stroke-linejoin="miter" stroke-miterlimit="2" stroke-dasharray="1.8 5.3"/>
<polyline points="88.6,647.1 300.0,647.1 306.0,645.3 350.0,645.3 380.0,646.0 400.0,647.1 732.0,647.1 737.0,641.5 743.0,641.5 748.0,647.1 884.6,647.1" fill="none" stroke="#008000" stroke-width="1.75" stroke-linejoin="miter" stroke-miterlimit="2" stroke-dasharray="1.8 5.3"/>
<polyline points="88.6,647.1 320.6,647.1 329.8,616.0 334.0,616.0 343.3,628.4 353.9,647.1 364.6,520.9 375.6,647.1 697.2,647.1 702.2,642.0 709.6,640.0 724.0,641.5 730.2,642.5 740.9,479.6 752.3,646.5 756.0,636.0 761.7,619.2 766.0,628.0 774.4,646.5 780.0,647.1 884.6,647.1" fill="none" stroke="#0000ff" stroke-width="1.75" stroke-linejoin="miter" stroke-miterlimit="2" stroke-dasharray="1.8 5.3"/>
</g>
<rect x="88.4" y="30.9" width="796.6" height="181.0" fill="none" stroke="#000" stroke-width="2.0"/>
<path d="M88.4 211.9v-7.0M88.4 30.9v7.0M199.0 211.9v-7.0M199.0 30.9v7.0M309.7 211.9v-7.0M309.7 30.9v7.0M420.3 211.9v-7.0M420.3 30.9v7.0M531.0 211.9v-7.0M531.0 30.9v7.0M641.6 211.9v-7.0M641.6 30.9v7.0M752.2 211.9v-7.0M752.2 30.9v7.0M862.9 211.9v-7.0M862.9 30.9v7.0" stroke="#000" stroke-width="1.0" fill="none"/>
<path d="M88.4 211.9h7.0M885.0 211.9h-7.0M88.4 187.8h7.0M885.0 187.8h-7.0M88.4 163.6h7.0M885.0 163.6h-7.0M88.4 139.5h7.0M885.0 139.5h-7.0M88.4 115.4h7.0M885.0 115.4h-7.0M88.4 91.2h7.0M885.0 91.2h-7.0M88.4 67.1h7.0M885.0 67.1h-7.0M88.4 43.0h7.0M885.0 43.0h-7.0" stroke="#000" stroke-width="1.0" fill="none"/>
<text x="81.4" y="217.8" text-anchor="end">0</text>
<text x="81.4" y="193.7" text-anchor="end">1</text>
<text x="81.4" y="169.5" text-anchor="end">2</text>
<text x="81.4" y="145.4" text-anchor="end">3</text>
<text x="81.4" y="121.3" text-anchor="end">4</text>
<text x="81.4" y="97.1" text-anchor="end">5</text>
<text x="81.4" y="73.0" text-anchor="end">6</text>
<text x="81.4" y="48.9" text-anchor="end">7</text>
<rect x="88.4" y="248.4" width="796.6" height="181.4" fill="none" stroke="#000" stroke-width="2.0"/>
<path d="M88.4 429.8v-7.0M88.4 248.4v7.0M199.0 429.8v-7.0M199.0 248.4v7.0M309.7 429.8v-7.0M309.7 248.4v7.0M420.3 429.8v-7.0M420.3 248.4v7.0M531.0 429.8v-7.0M531.0 248.4v7.0M641.6 429.8v-7.0M641.6 248.4v7.0M752.2 429.8v-7.0M752.2 248.4v7.0M862.9 429.8v-7.0M862.9 248.4v7.0" stroke="#000" stroke-width="1.0" fill="none"/>
<path d="M88.4 429.8h7.0M885.0 429.8h-7.0M88.4 407.1h7.0M885.0 407.1h-7.0M88.4 384.4h7.0M885.0 384.4h-7.0M88.4 361.8h7.0M885.0 361.8h-7.0M88.4 339.1h7.0M885.0 339.1h-7.0M88.4 316.4h7.0M885.0 316.4h-7.0M88.4 293.8h7.0M885.0 293.8h-7.0M88.4 271.1h7.0M885.0 271.1h-7.0M88.4 248.4h7.0M885.0 248.4h-7.0" stroke="#000" stroke-width="1.0" fill="none"/>
<text x="81.4" y="435.7" text-anchor="end">0</text>
<text x="81.4" y="413.0" text-anchor="end">10</text>
<text x="81.4" y="390.3" text-anchor="end">20</text>
<text x="81.4" y="367.7" text-anchor="end">30</text>
<text x="81.4" y="345.0" text-anchor="end">40</text>
<text x="81.4" y="322.3" text-anchor="end">50</text>
<text x="81.4" y="299.6" text-anchor="end">60</text>
<text x="81.4" y="277.0" text-anchor="end">70</text>
<text x="81.4" y="254.3" text-anchor="end">80</text>
<rect x="88.4" y="466.3" width="796.6" height="181.3" fill="none" stroke="#000" stroke-width="2.0"/>
<path d="M88.4 647.6v-7.0M88.4 466.3v7.0M199.0 647.6v-7.0M199.0 466.3v7.0M309.7 647.6v-7.0M309.7 466.3v7.0M420.3 647.6v-7.0M420.3 466.3v7.0M531.0 647.6v-7.0M531.0 466.3v7.0M641.6 647.6v-7.0M641.6 466.3v7.0M752.2 647.6v-7.0M752.2 466.3v7.0M862.9 647.6v-7.0M862.9 466.3v7.0" stroke="#000" stroke-width="1.0" fill="none"/>
<path d="M88.4 647.6h7.0M88.4 617.4h7.0M88.4 587.2h7.0M88.4 557.0h7.0M88.4 526.7h7.0M88.4 496.5h7.0M88.4 466.3h7.0" stroke="#000" stroke-width="1.0" fill="none"/>
<path d="M885.0 647.6h-7.0M885.0 621.7h-7.0M885.0 595.8h-7.0M885.0 569.9h-7.0M885.0 544.0h-7.0M885.0 518.1h-7.0M885.0 492.2h-7.0M885.0 466.3h-7.0" stroke="#000" stroke-width="1.0" fill="none"/>
<text x="81.4" y="653.5" text-anchor="end">0.00</text>
<text x="81.4" y="623.3" text-anchor="end">0.02</text>
<text x="81.4" y="593.1" text-anchor="end">0.04</text>
<text x="81.4" y="562.9" text-anchor="end">0.06</text>
<text x="81.4" y="532.6" text-anchor="end">0.08</text>
<text x="81.4" y="502.4" text-anchor="end">0.10</text>
<text x="81.4" y="472.2" text-anchor="end">0.12</text>
<text class="g" x="892.6" y="653.9">0.0000</text>
<text class="g" x="892.6" y="628.0">0.0002</text>
<text class="g" x="892.6" y="602.1">0.0004</text>
<text class="g" x="892.6" y="576.2">0.0006</text>
<text class="g" x="892.6" y="550.3">0.0008</text>
<text class="g" x="892.6" y="524.4">0.0010</text>
<text class="g" x="892.6" y="498.5">0.0012</text>
<text class="g" x="892.6" y="472.6">0.0014</text>
<text x="88.4" y="671.0" text-anchor="middle">0</text>
<text x="199.0" y="671.0" text-anchor="middle">100</text>
<text x="309.7" y="671.0" text-anchor="middle">200</text>
<text x="420.3" y="671.0" text-anchor="middle">300</text>
<text x="531.0" y="671.0" text-anchor="middle">400</text>
<text x="641.6" y="671.0" text-anchor="middle">500</text>
<text x="752.2" y="671.0" text-anchor="middle">600</text>
<text x="862.9" y="671.0" text-anchor="middle">700</text>
<text class="t" x="487.0" y="20.9" text-anchor="middle">hydrographs</text>
<text class="t" x="486.7" y="239.2" text-anchor="middle">number of clusters</text>
<text class="t" x="486.7" y="456.6" text-anchor="middle">runoff generation mechanisms</text>
<text x="486.5" y="700.8" text-anchor="middle">t (d)</text>
<text class="g" x="802.4" y="453.9" letter-spacing="0.05">axis for Horton</text>
<text transform="translate(53.2 120.4) rotate(-90)" text-anchor="middle"><tspan dx="1">ΔQ (m</tspan><tspan style="font-family:'DejaVu Serif','Liberation Serif',serif" font-size="14.5" dy="-8.3" dx="0.2">3</tspan><tspan dy="8.3" dx="1.9">/s)</tspan></text>
<text transform="translate(41.2 341) rotate(-90)" text-anchor="middle">(-)</text>
<text transform="translate(18.8 556.7) rotate(-90)" text-anchor="middle">area fraction (-)</text>
<text class="t" x="114.6" y="68.9" style="fill:#0000ff">P</text>
<text class="l" x="130.0" y="70.6" style="fill:#0000ff;font-size:25.8px">−</text>
<text class="t" x="114.6" y="107.5" style="fill:#008000">P</text>
<text class="s" x="130.6" y="107.5" style="fill:#008000;font-size:28px">0</text>
<text class="t" x="114.6" y="145.5" style="fill:#ff0000">P</text>
<text class="l" x="129.2" y="147.9" style="fill:#ff0000;font-size:28.5px">+</text>
<text class="l" x="370.6" y="493.6" style="font-size:21.4px">−</text>
<text x="394.4" y="492.8">Dunne, -- SSF,</text>
<text x="553.4" y="494.6">·</text><text x="563.7" y="494.6">·</text>
<text x="579.9" y="492.8" textLength="73" lengthAdjust="spacingAndGlyphs">Horton</text>
</svg>
</body></html>
